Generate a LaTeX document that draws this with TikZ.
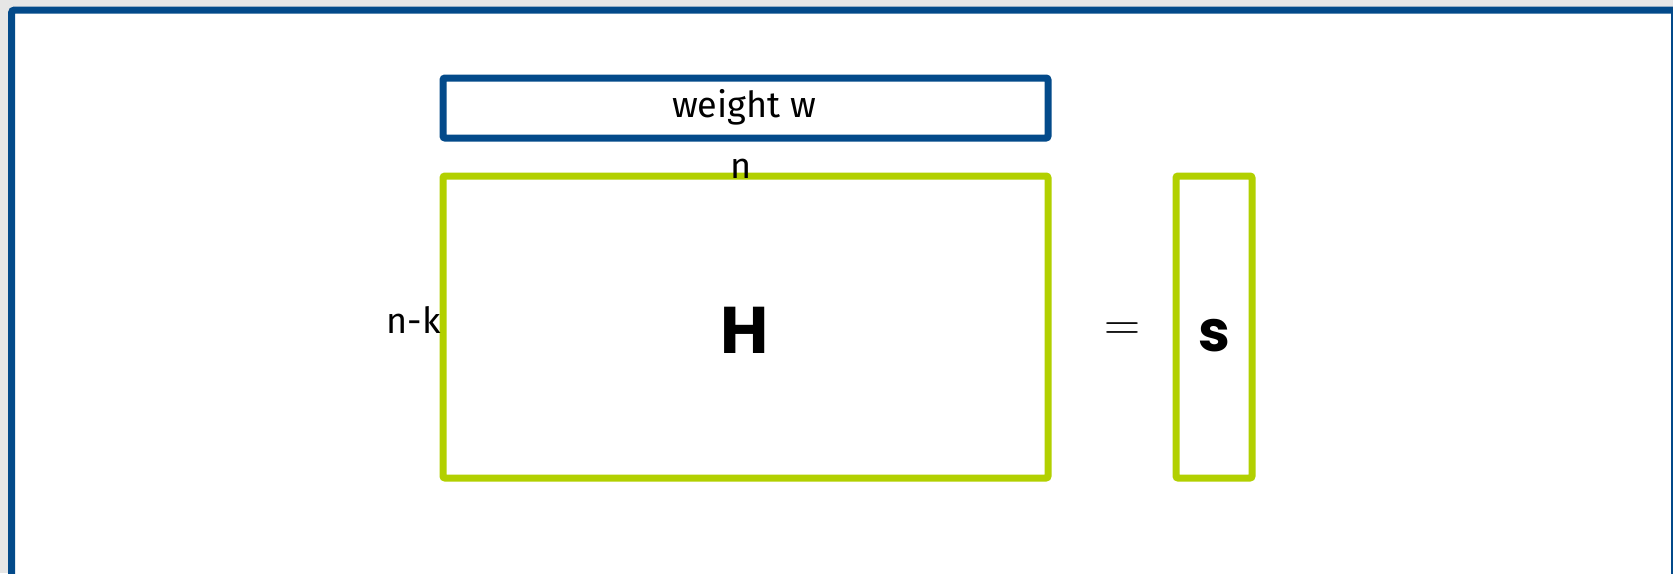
\documentclass[tikz,border=0pt]{standalone}
\usepackage{fontspec}
\newfontfamily\labelfont{Fira Sans}
\newfontfamily\boldsans{Poppins}[BoldFont={* Bold}]
\definecolor{frameblue}{RGB}{3,74,138}
\definecolor{matgreen}{RGB}{178,208,0}
\definecolor{pagegrey}{RGB}{230,230,230}
\tikzset{
  weightbox/.style={draw=frameblue, line width=7pt, rounded corners=2pt},
  matbox/.style={draw=matgreen, line width=7pt, rounded corners=2pt},
  dimlabel/.style={inner sep=0pt, font=\fontsize{36}{36}\labelfont},
  symlabel/.style={inner sep=0pt, font=\fontsize{66}{66}\boldsans\bfseries},
}
\begin{document}
\begin{tikzpicture}[x=1pt, y=-1pt]
  \useasboundingbox (0,0) rectangle (1673,573);
  \clip (0,0) rectangle (1673,573);
  % page background and outer frame
  \fill[pagegrey] (0,0) rectangle (1673,573);
  \draw[frameblue, fill=white, line width=7pt, rounded corners=3pt]
    (11.5,10) rectangle (1674.5,620);
  % weight row vector
  \node[weightbox, minimum width=605pt, minimum height=60pt, inner sep=0pt]
    (w) at (745.5,108) {};
  \node[dimlabel, anchor=base] (wlabel) at (744,117) {weight w};
  % parity-check matrix H
  \node[matbox, minimum width=605pt, minimum height=302pt, inner sep=0pt]
    (H) at (745.5,327) {};
  \node[symlabel, anchor=base] (Hlabel) at (745,353) {H};
  \node[dimlabel, anchor=base] (n) at (741,178) {n};
  \node[dimlabel, anchor=base east] (nk) at (441,333) {n-k};
  % equals sign and syndrome column
  \node[inner sep=0pt, font=\fontsize{50}{50}\selectfont] (eq) at (1122.5,332) {=};
  \node[matbox, minimum width=76pt, minimum height=302pt, inner sep=0pt]
    (S) at (1214,327) {};
  \node[inner sep=0pt, font=\fontsize{57}{57}\boldsans\bfseries, anchor=base]
    (Slabel) at (1214.5,351) {s};
\end{tikzpicture}
\end{document}
